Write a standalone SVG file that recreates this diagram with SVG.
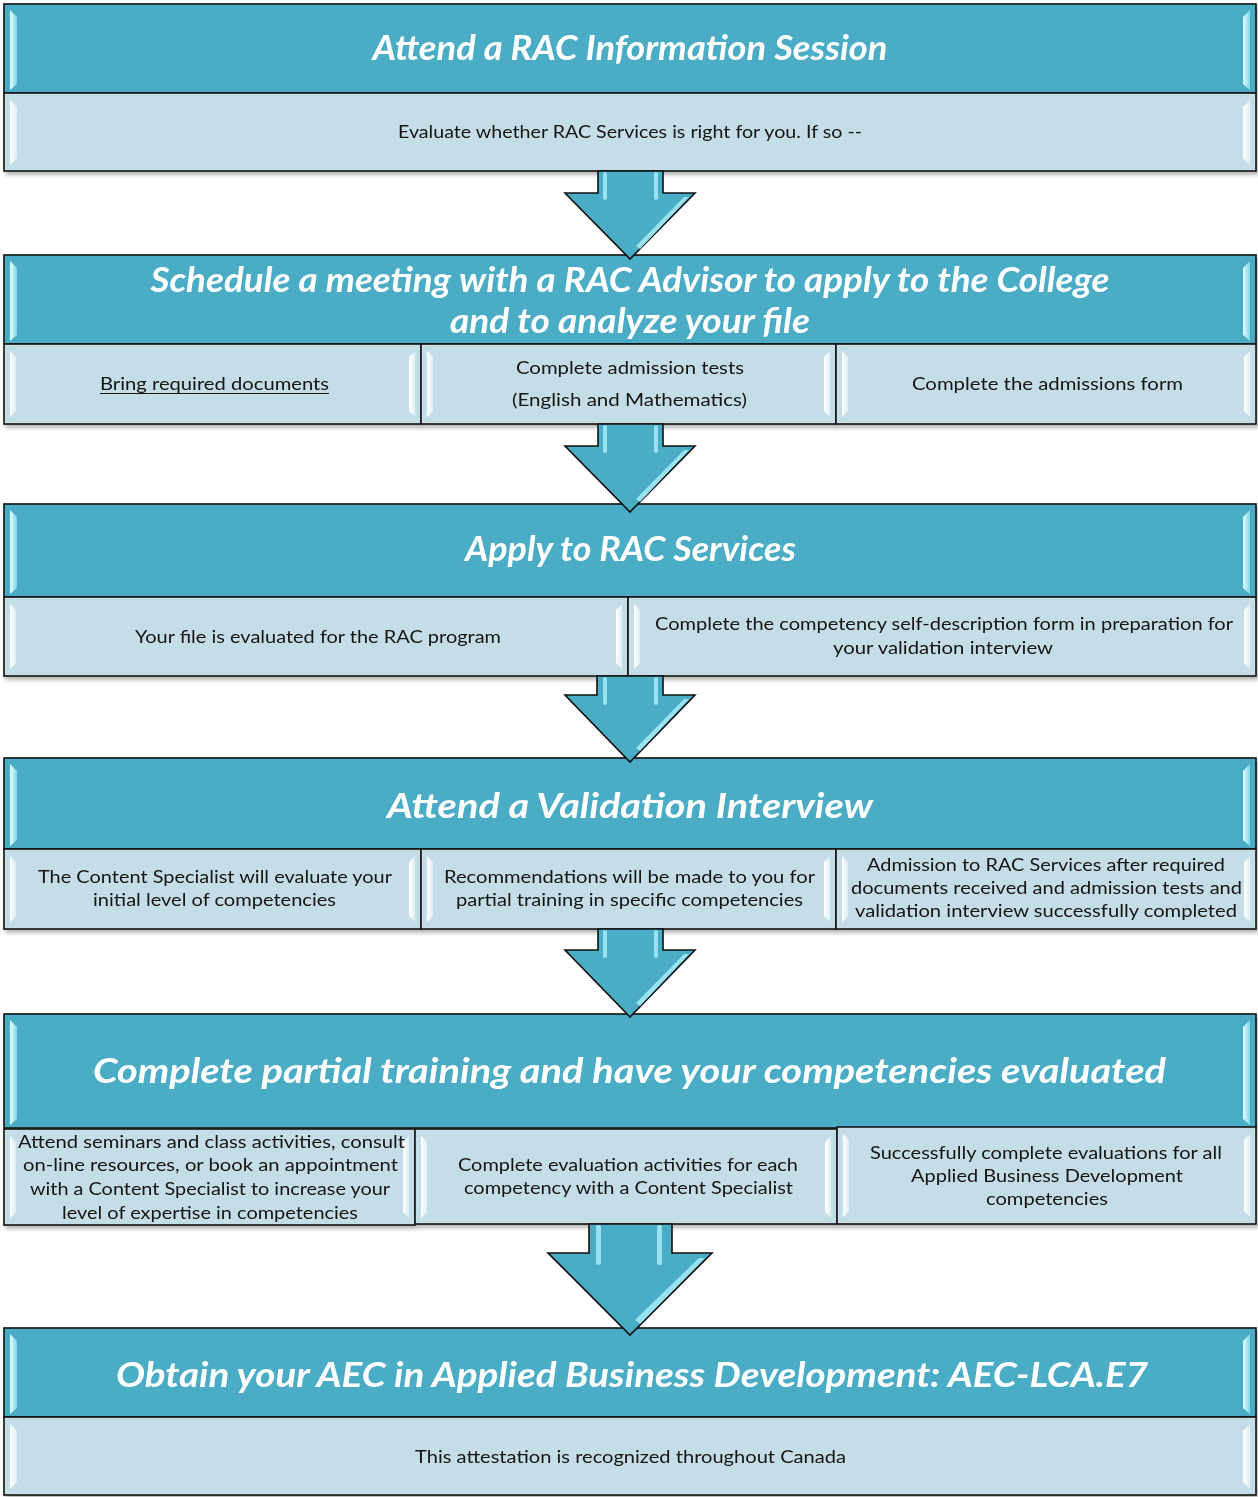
<svg xmlns="http://www.w3.org/2000/svg" width="1258" height="1497" viewBox="0 0 1258 1497">
<style>
.hdr{fill:#4BACC6;stroke:#151515;stroke-width:1.6}
.cell{fill:#C5DDE6;stroke:#151515;stroke-width:1.6}
.ht{font-family:Lato,"Open Sans","Liberation Sans",sans-serif;font-weight:bold;font-style:italic;fill:#ffffff;text-anchor:middle;font-size:34px}
.bt{font-family:Lato,"Open Sans","Liberation Sans",sans-serif;fill:#141414;text-anchor:middle;font-size:18px}
.hlH{fill:url(#gH)}
.hlC{fill:url(#gC)}
.arrow{fill:#4BACC6;stroke:#111;stroke-width:1.6;stroke-linejoin:miter}
.ahl{fill:#A6ECF8;opacity:0.85}
</style>
<defs>
<filter id="sh" x="-5%" y="-10%" width="110%" height="130%">
<feDropShadow dx="2" dy="3" stdDeviation="2" flood-color="#000" flood-opacity="0.3"/>
</filter>
<linearGradient id="gH" x1="0" y1="0" x2="1" y2="0">
<stop offset="0" stop-color="#E6FDFF"/>
<stop offset="1" stop-color="#7FD6E8"/>
</linearGradient>
<linearGradient id="gC" x1="0" y1="0" x2="1" y2="0">
<stop offset="0" stop-color="#FFFFFF"/>
<stop offset="1" stop-color="#DCEFF5"/>
</linearGradient>
</defs>

<g id="section1" filter="url(#sh)">
<rect class="hdr" x="4" y="4" width="1252" height="89"/>
<path class="hlH" d="M10,10 L17,17 L17,84 L10,90 Z"/>
<path class="hlH" d="M1250,10 L1243,17 L1243,84 L1250,90 Z"/>
<rect class="cell" x="4" y="93" width="1252" height="78"/>
<path class="hlC" d="M10,100 L17,107 L17,158 L10,165 Z"/>
<path class="hlC" d="M1250,100 L1243,107 L1243,158 L1250,165 Z"/>
<text class="ht" x="630" y="60" textLength="515" lengthAdjust="spacingAndGlyphs">Attend a RAC Information Session</text>
<text class="bt" x="630" y="138" textLength="464" lengthAdjust="spacingAndGlyphs">Evaluate whether RAC Services is right for you. If so --</text>
</g>

<g id="section2" filter="url(#sh)">
<rect class="hdr" x="4" y="255" width="1252" height="89"/>
<path class="hlH" d="M10,261 L17,268 L17,335 L10,341 Z"/>
<path class="hlH" d="M1250,261 L1243,268 L1243,335 L1250,341 Z"/>
<rect class="cell" x="4" y="344" width="417" height="80"/>
<rect class="cell" x="421" y="344" width="415" height="80"/>
<rect class="cell" x="836" y="344" width="420" height="80"/>
<path class="hlC" d="M10,351 L16,357 L16,411 L10,417 Z"/>
<path class="hlC" d="M415,351 L409,357 L409,411 L415,417 Z"/>
<path class="hlC" d="M427,351 L433,357 L433,411 L427,417 Z"/>
<path class="hlC" d="M830,351 L824,357 L824,411 L830,417 Z"/>
<path class="hlC" d="M842,351 L848,357 L848,411 L842,417 Z"/>
<path class="hlC" d="M1250,351 L1244,357 L1244,411 L1250,417 Z"/>
<text class="ht" x="630" y="292" textLength="959" lengthAdjust="spacingAndGlyphs">Schedule a meeting with a RAC Advisor to apply to the College</text>
<text class="ht" x="630" y="333" textLength="360" lengthAdjust="spacingAndGlyphs">and to analyze your file</text>
<text class="bt" x="214.5" y="390" textLength="229" lengthAdjust="spacingAndGlyphs">Bring required documents</text>
<line x1="100" y1="393.5" x2="329" y2="393.5" stroke="#141414" stroke-width="1.2"/>
<text class="bt" x="630" y="374" textLength="228" lengthAdjust="spacingAndGlyphs">Complete admission tests</text>
<text class="bt" x="629.5" y="406" textLength="235" lengthAdjust="spacingAndGlyphs">(English and Mathematics)</text>
<text class="bt" x="1047.5" y="390" textLength="271" lengthAdjust="spacingAndGlyphs">Complete the admissions form</text>
</g>

<g id="section3" filter="url(#sh)">
<rect class="hdr" x="4" y="504" width="1252" height="93"/>
<path class="hlH" d="M10,510 L17,517 L17,588 L10,594 Z"/>
<path class="hlH" d="M1250,510 L1243,517 L1243,588 L1250,594 Z"/>
<rect class="cell" x="4" y="597" width="624" height="79"/>
<rect class="cell" x="628" y="597" width="628" height="79"/>
<path class="hlC" d="M10,604 L16,610 L16,663 L10,669 Z"/>
<path class="hlC" d="M622,604 L616,610 L616,663 L622,669 Z"/>
<path class="hlC" d="M634,604 L640,610 L640,663 L634,669 Z"/>
<path class="hlC" d="M1250,604 L1244,610 L1244,663 L1250,669 Z"/>
<text class="ht" x="630.5" y="561" textLength="331" lengthAdjust="spacingAndGlyphs">Apply to RAC Services</text>
<text class="bt" x="318" y="643" textLength="366" lengthAdjust="spacingAndGlyphs">Your file is evaluated for the RAC program</text>
<text class="bt" x="944" y="630" textLength="578" lengthAdjust="spacingAndGlyphs">Complete the competency self-description form in preparation for</text>
<text class="bt" x="943" y="654" textLength="220" lengthAdjust="spacingAndGlyphs">your validation interview</text>
</g>

<g id="section4" filter="url(#sh)">
<rect class="hdr" x="4" y="758" width="1252" height="91"/>
<path class="hlH" d="M10,764 L17,771 L17,840 L10,846 Z"/>
<path class="hlH" d="M1250,764 L1243,771 L1243,840 L1250,846 Z"/>
<rect class="cell" x="4" y="849" width="417" height="80"/>
<rect class="cell" x="421" y="849" width="415" height="80"/>
<rect class="cell" x="836" y="849" width="420" height="80"/>
<path class="hlC" d="M10,856 L16,862 L16,916 L10,922 Z"/>
<path class="hlC" d="M415,856 L409,862 L409,916 L415,922 Z"/>
<path class="hlC" d="M427,856 L433,862 L433,916 L427,922 Z"/>
<path class="hlC" d="M830,856 L824,862 L824,916 L830,922 Z"/>
<path class="hlC" d="M842,856 L848,862 L848,916 L842,922 Z"/>
<path class="hlC" d="M1250,856 L1244,862 L1244,916 L1250,922 Z"/>
<text class="ht" x="630" y="818" textLength="486" lengthAdjust="spacingAndGlyphs">Attend a Validation Interview</text>
<text class="bt" x="215" y="883" textLength="354" lengthAdjust="spacingAndGlyphs">The Content Specialist will evaluate your</text>
<text class="bt" x="214.5" y="906" textLength="243" lengthAdjust="spacingAndGlyphs">initial level of competencies</text>
<text class="bt" x="629.5" y="883" textLength="371" lengthAdjust="spacingAndGlyphs">Recommendations will be made to you for</text>
<text class="bt" x="629.5" y="906" textLength="347" lengthAdjust="spacingAndGlyphs">partial training in specific competencies</text>
<text class="bt" x="1046" y="871" textLength="358" lengthAdjust="spacingAndGlyphs">Admission to RAC Services after required</text>
<text class="bt" x="1046.5" y="894" textLength="391" lengthAdjust="spacingAndGlyphs">documents received and admission tests and</text>
<text class="bt" x="1046" y="917" textLength="382" lengthAdjust="spacingAndGlyphs">validation interview successfully completed</text>
</g>

<g id="section5" filter="url(#sh)">
<rect class="hdr" x="4" y="1014" width="1252" height="114"/>
<path class="hlH" d="M10,1020 L17,1027 L17,1119 L10,1125 Z"/>
<path class="hlH" d="M1250,1020 L1243,1027 L1243,1119 L1250,1125 Z"/>
<rect class="cell" x="4" y="1129" width="411" height="96"/>
<rect class="cell" x="415" y="1129" width="422" height="95"/>
<rect class="cell" x="837" y="1127" width="419" height="97"/>
<path class="hlC" d="M10,1136 L16,1142 L16,1212 L10,1218 Z"/>
<path class="hlC" d="M409,1136 L403,1142 L403,1212 L409,1218 Z"/>
<path class="hlC" d="M421,1136 L427,1142 L427,1212 L421,1218 Z"/>
<path class="hlC" d="M831,1136 L825,1142 L825,1212 L831,1218 Z"/>
<path class="hlC" d="M843,1134 L849,1140 L849,1211 L843,1217 Z"/>
<path class="hlC" d="M1250,1134 L1244,1140 L1244,1211 L1250,1217 Z"/>
<text class="ht" x="629.5" y="1083" font-size="37" textLength="1073" lengthAdjust="spacingAndGlyphs">Complete partial training and have your competencies evaluated</text>
<text class="bt" x="211.5" y="1148" textLength="387" lengthAdjust="spacingAndGlyphs">Attend seminars and class activities, consult</text>
<text class="bt" x="210.5" y="1171" textLength="375" lengthAdjust="spacingAndGlyphs">on-line resources, or book an appointment</text>
<text class="bt" x="210" y="1195" textLength="360" lengthAdjust="spacingAndGlyphs">with a Content Specialist to increase your</text>
<text class="bt" x="210" y="1219" textLength="296" lengthAdjust="spacingAndGlyphs">level of expertise in competencies</text>
<text class="bt" x="628" y="1171" textLength="340" lengthAdjust="spacingAndGlyphs">Complete evaluation activities for each</text>
<text class="bt" x="628.5" y="1194" textLength="329" lengthAdjust="spacingAndGlyphs">competency with a Content Specialist</text>
<text class="bt" x="1046" y="1159" textLength="352" lengthAdjust="spacingAndGlyphs">Successfully complete evaluations for all</text>
<text class="bt" x="1047" y="1182" textLength="272" lengthAdjust="spacingAndGlyphs">Applied Business Development</text>
<text class="bt" x="1047" y="1205" textLength="122" lengthAdjust="spacingAndGlyphs">competencies</text>
</g>

<g id="section6" filter="url(#sh)">
<rect class="hdr" x="4" y="1328" width="1252" height="89"/>
<path class="hlH" d="M10,1334 L17,1341 L17,1408 L10,1414 Z"/>
<path class="hlH" d="M1250,1334 L1243,1341 L1243,1408 L1250,1414 Z"/>
<rect class="cell" x="4" y="1417" width="1252" height="78"/>
<path class="hlC" d="M10,1424 L17,1431 L17,1482 L10,1489 Z"/>
<path class="hlC" d="M1250,1424 L1243,1431 L1243,1482 L1250,1489 Z"/>
<text class="ht" x="632" y="1387" textLength="1032" lengthAdjust="spacingAndGlyphs">Obtain your AEC in Applied Business Development: AEC-LCA.E7</text>
<text class="bt" x="630.5" y="1463" textLength="431" lengthAdjust="spacingAndGlyphs">This attestation is recognized throughout Canada</text>
</g>

<g id="connectors">
<g id="arrow1">
<path class="arrow" d="M598,171 L663,171 L663,193 L695,193 L630,259 L565,193 L598,193 Z"/>
<rect class="ahl" x="603" y="172" width="4" height="28" rx="2"/>
<rect class="ahl" x="654" y="172" width="4" height="28" rx="2"/>
<path class="ahl" d="M684,197 L689,197 L640,249 L636,246 Z"/>
</g>
<g id="arrow2">
<path class="arrow" d="M598,424 L663,424 L663,446 L695,446 L630,512 L565,446 L598,446 Z"/>
<rect class="ahl" x="603" y="425" width="4" height="28" rx="2"/>
<rect class="ahl" x="654" y="425" width="4" height="28" rx="2"/>
<path class="ahl" d="M684,450 L689,450 L640,502 L636,499 Z"/>
</g>
<g id="arrow3">
<path class="arrow" d="M597,676 L663,676 L663,695 L695,695 L630,762 L565,695 L597,695 Z"/>
<rect class="ahl" x="603" y="677" width="4" height="28" rx="2"/>
<rect class="ahl" x="654" y="677" width="4" height="28" rx="2"/>
<path class="ahl" d="M684,699 L689,699 L640,751 L636,748 Z"/>
</g>
<g id="arrow4">
<path class="arrow" d="M598,929 L663,929 L663,950 L695,950 L630,1017 L565,950 L598,950 Z"/>
<rect class="ahl" x="603" y="930" width="4" height="28" rx="2"/>
<rect class="ahl" x="654" y="930" width="4" height="28" rx="2"/>
<path class="ahl" d="M684,954 L689,954 L640,1006 L636,1003 Z"/>
</g>
<g id="arrow5">
<path class="arrow" d="M589,1224 L672,1224 L672,1253 L712,1253 L630,1335 L548,1253 L589,1253 Z"/>
<rect class="ahl" x="596" y="1225" width="5" height="40" rx="2"/>
<rect class="ahl" x="657" y="1225" width="5" height="40" rx="2"/>
<path class="ahl" d="M699,1258 L705,1258 L640,1324 L635,1320 Z"/>
</g>
</g>
</svg>
